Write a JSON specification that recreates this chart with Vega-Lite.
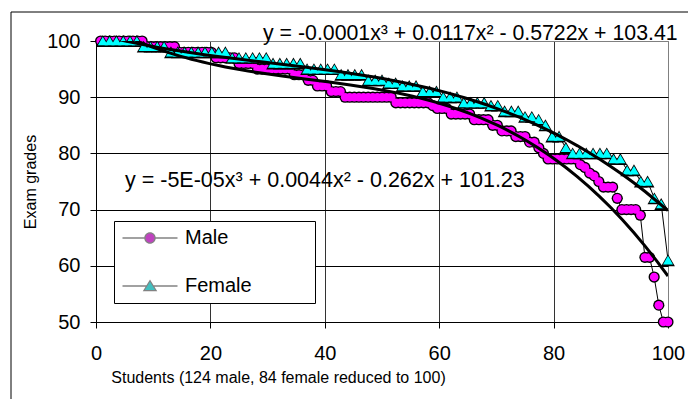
{
  "$schema": "https://vega.github.io/schema/vega-lite/v6.json",
  "width": 572,
  "height": 281,
  "autosize": "none",
  "padding": {"left": 96, "top": 41, "right": 20, "bottom": 77},
  "background": "white",
  "config": {
    "font": "Liberation Sans",
    "view": {"stroke": "#808080", "strokeWidth": 1},
    "axis": {
      "labelFont": "Liberation Sans",
      "titleFont": "Liberation Sans",
      "labelColor": "#000",
      "titleColor": "#000",
      "titleFontWeight": "normal",
      "domainColor": "#000",
      "tickColor": "#000",
      "labelFontSize": 20,
      "titleFontSize": 16,
      "tickSize": 6,
      "labelFlush": false
    }
  },
  "datasets": {
    "grades": [
      {"sex":"Male","student":0.81,"grade":100},{"sex":"Male","student":1.61,"grade":100},{"sex":"Male","student":2.42,"grade":100},{"sex":"Male","student":3.23,"grade":100},{"sex":"Male","student":4.03,"grade":100},{"sex":"Male","student":4.84,"grade":100},{"sex":"Male","student":5.65,"grade":100},{"sex":"Male","student":6.45,"grade":100},{"sex":"Male","student":7.26,"grade":100},{"sex":"Male","student":8.06,"grade":100},
      {"sex":"Male","student":8.87,"grade":99},{"sex":"Male","student":9.68,"grade":99},{"sex":"Male","student":10.48,"grade":99},{"sex":"Male","student":11.29,"grade":99},{"sex":"Male","student":12.1,"grade":99},{"sex":"Male","student":12.9,"grade":99},{"sex":"Male","student":13.71,"grade":99},
      {"sex":"Male","student":14.52,"grade":98},{"sex":"Male","student":15.32,"grade":98},{"sex":"Male","student":16.13,"grade":98},{"sex":"Male","student":16.94,"grade":98},{"sex":"Male","student":17.74,"grade":98},{"sex":"Male","student":18.55,"grade":98},{"sex":"Male","student":19.35,"grade":98},{"sex":"Male","student":20.16,"grade":98},
      {"sex":"Male","student":20.97,"grade":97},{"sex":"Male","student":21.77,"grade":97},{"sex":"Male","student":22.58,"grade":97},{"sex":"Male","student":23.39,"grade":97},{"sex":"Male","student":24.19,"grade":97},
      {"sex":"Male","student":25,"grade":96},{"sex":"Male","student":25.81,"grade":96},{"sex":"Male","student":26.61,"grade":96},{"sex":"Male","student":27.42,"grade":96},
      {"sex":"Male","student":28.23,"grade":95},{"sex":"Male","student":29.03,"grade":95},{"sex":"Male","student":29.84,"grade":95},{"sex":"Male","student":30.65,"grade":95},{"sex":"Male","student":31.45,"grade":95},{"sex":"Male","student":32.26,"grade":95},{"sex":"Male","student":33.06,"grade":95},{"sex":"Male","student":33.87,"grade":95},
      {"sex":"Male","student":34.68,"grade":94},{"sex":"Male","student":35.48,"grade":94},{"sex":"Male","student":36.29,"grade":94},
      {"sex":"Male","student":37.1,"grade":93},{"sex":"Male","student":37.9,"grade":93},
      {"sex":"Male","student":38.71,"grade":92},{"sex":"Male","student":39.52,"grade":92},{"sex":"Male","student":40.32,"grade":92},
      {"sex":"Male","student":41.13,"grade":91},{"sex":"Male","student":41.94,"grade":91},{"sex":"Male","student":42.74,"grade":91},
      {"sex":"Male","student":43.55,"grade":90},{"sex":"Male","student":44.35,"grade":90},{"sex":"Male","student":45.16,"grade":90},{"sex":"Male","student":45.97,"grade":90},{"sex":"Male","student":46.77,"grade":90},{"sex":"Male","student":47.58,"grade":90},{"sex":"Male","student":48.39,"grade":90},{"sex":"Male","student":49.19,"grade":90},{"sex":"Male","student":50,"grade":90},{"sex":"Male","student":50.81,"grade":90},{"sex":"Male","student":51.61,"grade":90},
      {"sex":"Male","student":52.42,"grade":89},{"sex":"Male","student":53.23,"grade":89},{"sex":"Male","student":54.03,"grade":89},{"sex":"Male","student":54.84,"grade":89},{"sex":"Male","student":55.65,"grade":89},{"sex":"Male","student":56.45,"grade":89},{"sex":"Male","student":57.26,"grade":89},{"sex":"Male","student":58.06,"grade":89},
      {"sex":"Male","student":58.87,"grade":88.5},
      {"sex":"Male","student":59.68,"grade":88},{"sex":"Male","student":60.48,"grade":88},{"sex":"Male","student":61.29,"grade":88},
      {"sex":"Male","student":62.1,"grade":87},{"sex":"Male","student":62.9,"grade":87},{"sex":"Male","student":63.71,"grade":87},{"sex":"Male","student":64.52,"grade":87},{"sex":"Male","student":65.32,"grade":87},
      {"sex":"Male","student":66.13,"grade":86},{"sex":"Male","student":66.94,"grade":86},{"sex":"Male","student":67.74,"grade":86},{"sex":"Male","student":68.55,"grade":86},
      {"sex":"Male","student":69.35,"grade":85},{"sex":"Male","student":70.16,"grade":85},
      {"sex":"Male","student":70.97,"grade":84},{"sex":"Male","student":71.77,"grade":84},{"sex":"Male","student":72.58,"grade":84},
      {"sex":"Male","student":73.39,"grade":83},{"sex":"Male","student":74.19,"grade":83},{"sex":"Male","student":75,"grade":83},
      {"sex":"Male","student":75.81,"grade":82},{"sex":"Male","student":76.61,"grade":82},
      {"sex":"Male","student":77.42,"grade":81},
      {"sex":"Male","student":78.23,"grade":80},
      {"sex":"Male","student":79.03,"grade":79},{"sex":"Male","student":79.84,"grade":79},{"sex":"Male","student":80.65,"grade":79},{"sex":"Male","student":81.45,"grade":79},{"sex":"Male","student":82.26,"grade":79},{"sex":"Male","student":83.06,"grade":79},{"sex":"Male","student":83.87,"grade":79},
      {"sex":"Male","student":84.68,"grade":78},
      {"sex":"Male","student":85.48,"grade":77.5},
      {"sex":"Male","student":86.29,"grade":76.5},
      {"sex":"Male","student":87.1,"grade":76},
      {"sex":"Male","student":87.9,"grade":75},
      {"sex":"Male","student":88.71,"grade":74},{"sex":"Male","student":89.52,"grade":74},{"sex":"Male","student":90.32,"grade":74},
      {"sex":"Male","student":91.13,"grade":72},
      {"sex":"Male","student":91.94,"grade":70},{"sex":"Male","student":92.74,"grade":70},{"sex":"Male","student":93.55,"grade":70},{"sex":"Male","student":94.35,"grade":70},
      {"sex":"Male","student":95.16,"grade":69},
      {"sex":"Male","student":95.97,"grade":61.5},{"sex":"Male","student":96.77,"grade":61.5},
      {"sex":"Male","student":97.58,"grade":58},
      {"sex":"Male","student":98.39,"grade":53},
      {"sex":"Male","student":99.19,"grade":50},{"sex":"Male","student":100,"grade":50},

      {"sex":"Female","student":1.19,"grade":100},{"sex":"Female","student":2.38,"grade":100},{"sex":"Female","student":3.57,"grade":100},{"sex":"Female","student":4.76,"grade":100},{"sex":"Female","student":5.95,"grade":100},{"sex":"Female","student":7.14,"grade":100},
      {"sex":"Female","student":8.33,"grade":99},{"sex":"Female","student":9.52,"grade":99},{"sex":"Female","student":10.71,"grade":99},{"sex":"Female","student":11.9,"grade":99},
      {"sex":"Female","student":13.1,"grade":98},{"sex":"Female","student":14.29,"grade":98},{"sex":"Female","student":15.48,"grade":98},{"sex":"Female","student":16.67,"grade":98},{"sex":"Female","student":17.86,"grade":98},{"sex":"Female","student":19.05,"grade":98},{"sex":"Female","student":20.24,"grade":98},{"sex":"Female","student":21.43,"grade":98},{"sex":"Female","student":22.62,"grade":98},
      {"sex":"Female","student":23.81,"grade":97},{"sex":"Female","student":25,"grade":97},{"sex":"Female","student":26.19,"grade":97},{"sex":"Female","student":27.38,"grade":97},{"sex":"Female","student":28.57,"grade":97},{"sex":"Female","student":29.76,"grade":97},
      {"sex":"Female","student":30.95,"grade":96},{"sex":"Female","student":32.14,"grade":96},{"sex":"Female","student":33.33,"grade":96},{"sex":"Female","student":34.52,"grade":96},{"sex":"Female","student":35.71,"grade":96},
      {"sex":"Female","student":36.9,"grade":95},{"sex":"Female","student":38.1,"grade":95},{"sex":"Female","student":39.29,"grade":95},{"sex":"Female","student":40.48,"grade":95},{"sex":"Female","student":41.67,"grade":95},
      {"sex":"Female","student":42.86,"grade":94},{"sex":"Female","student":44.05,"grade":94},{"sex":"Female","student":45.24,"grade":94},{"sex":"Female","student":46.43,"grade":94},
      {"sex":"Female","student":47.62,"grade":93},{"sex":"Female","student":48.81,"grade":93},{"sex":"Female","student":50,"grade":93},
      {"sex":"Female","student":51.19,"grade":92.5},{"sex":"Female","student":52.38,"grade":92.5},
      {"sex":"Female","student":53.57,"grade":92},{"sex":"Female","student":54.76,"grade":92},{"sex":"Female","student":55.95,"grade":92},
      {"sex":"Female","student":57.14,"grade":91},{"sex":"Female","student":58.33,"grade":91},{"sex":"Female","student":59.52,"grade":91},
      {"sex":"Female","student":60.71,"grade":90},{"sex":"Female","student":61.9,"grade":90},{"sex":"Female","student":63.1,"grade":90},
      {"sex":"Female","student":64.29,"grade":89},{"sex":"Female","student":65.48,"grade":89},{"sex":"Female","student":66.67,"grade":89},{"sex":"Female","student":67.86,"grade":89},
      {"sex":"Female","student":69.05,"grade":88.5},{"sex":"Female","student":70.24,"grade":88.5},
      {"sex":"Female","student":71.43,"grade":87.5},{"sex":"Female","student":72.62,"grade":87.5},{"sex":"Female","student":73.81,"grade":87.5},
      {"sex":"Female","student":75,"grade":86.5},{"sex":"Female","student":76.19,"grade":86.5},
      {"sex":"Female","student":77.38,"grade":86},
      {"sex":"Female","student":78.57,"grade":85},
      {"sex":"Female","student":79.76,"grade":83},{"sex":"Female","student":80.95,"grade":83},
      {"sex":"Female","student":82.14,"grade":81},
      {"sex":"Female","student":83.33,"grade":80},{"sex":"Female","student":84.52,"grade":80},{"sex":"Female","student":85.71,"grade":80},{"sex":"Female","student":86.9,"grade":80},{"sex":"Female","student":88.1,"grade":80},{"sex":"Female","student":89.29,"grade":80},
      {"sex":"Female","student":90.48,"grade":79},{"sex":"Female","student":91.67,"grade":79},
      {"sex":"Female","student":92.86,"grade":77},{"sex":"Female","student":94.05,"grade":77},
      {"sex":"Female","student":95.24,"grade":75},{"sex":"Female","student":96.43,"grade":75},
      {"sex":"Female","student":97.62,"grade":72},
      {"sex":"Female","student":98.81,"grade":71},
      {"sex":"Female","student":100,"grade":61}
    ]
  },
  "data": {"name": "grades"},
  "layer": [
    {
      "data": {"values": [{}]},
      "mark": {"type": "rect", "fill": "transparent", "stroke": "#000", "strokeWidth": 1},
      "encoding": {
        "x": {"datum": -14.86, "type": "quantitative", "scale": {"domain": [0, 100], "nice": false, "zero": false}},
        "x2": {"datum": 140},
        "y": {"datum": 105.16, "type": "quantitative", "scale": {"domain": [50, 100], "nice": false, "zero": false}},
        "y2": {"datum": 20}
      }
    },
    {
      "mark": {"type": "line", "color": "#000", "strokeWidth": 1},
      "encoding": {
        "x": {
          "field": "student", "type": "quantitative",
          "scale": {"domain": [0, 100], "nice": false, "zero": false},
          "axis": {
            "values": [0, 20, 40, 60, 80, 100],
            "title": "Students (124 male, 84 female reduced to 100)",
            "grid": true,
            "gridColor": {"condition": {"test": "datum.value === 100", "value": "#808080"}, "value": "#333"},
            "labelPadding": 15,
            "titlePadding": 6,
            "titleX": 182,
            "titleAlign": "center",
            "titleAnchor": "start"
          }
        },
        "y": {
          "field": "grade", "type": "quantitative",
          "scale": {"domain": [50, 100], "nice": false, "zero": false},
          "axis": {
            "values": [50, 60, 70, 80, 90, 100],
            "title": "Exam grades",
            "grid": true,
            "gridColor": {"condition": {"test": "datum.value === 100", "value": "#808080"}, "value": "#000"},
            "labelPadding": 10,
            "titlePadding": 8
          }
        },
        "detail": {"field": "sex"}
      }
    },
    {
      "transform": [{"filter": "datum.sex === 'Male'"}],
      "mark": {"type": "point", "shape": "circle", "filled": true, "color": "#000", "size": 125, "opacity": 1},
      "encoding": {"x": {"field": "student", "type": "quantitative"}, "y": {"field": "grade", "type": "quantitative"}}
    },
    {
      "transform": [{"filter": "datum.sex === 'Male'"}],
      "mark": {"type": "point", "shape": "circle", "filled": true, "color": "#ff00ff", "size": 72, "opacity": 1},
      "encoding": {"x": {"field": "student", "type": "quantitative"}, "y": {"field": "grade", "type": "quantitative"}}
    },
    {
      "transform": [{"filter": "datum.sex === 'Female'"}],
      "mark": {"type": "point", "shape": "triangle-up", "filled": true, "color": "#000", "size": 190, "opacity": 1},
      "encoding": {"x": {"field": "student", "type": "quantitative"}, "y": {"field": "grade", "type": "quantitative"}}
    },
    {
      "transform": [{"filter": "datum.sex === 'Female'"}],
      "mark": {"type": "point", "shape": "triangle-up", "filled": true, "color": "#00ffff", "size": 100, "opacity": 1},
      "encoding": {"x": {"field": "student", "type": "quantitative"}, "y": {"field": "grade", "type": "quantitative"}}
    },
    {
      "transform": [{"regression": "grade", "on": "student", "groupby": ["sex"], "method": "poly", "order": 3}],
      "mark": {"type": "line", "color": "#000", "strokeWidth": 3, "clip": true},
      "encoding": {
        "x": {"field": "student", "type": "quantitative"},
        "y": {"field": "grade", "type": "quantitative"},
        "detail": {"field": "sex"}
      }
    },
    {
      "data": {"values": [{"label": "y = -0.0001x³ + 0.0117x² - 0.5722x + 103.41"}]},
      "mark": {"type": "text", "align": "left", "baseline": "alphabetic", "fontSize": 21.3, "color": "#000"},
      "encoding": {
        "x": {"datum": 29.2, "type": "quantitative"},
        "y": {"datum": 100.18, "type": "quantitative"},
        "text": {"field": "label"}
      }
    },
    {
      "data": {"values": [{"label": "y = -5E-05x³ + 0.0044x² - 0.262x + 101.23"}]},
      "mark": {"type": "text", "align": "left", "baseline": "alphabetic", "fontSize": 21.5, "color": "#000"},
      "encoding": {
        "x": {"datum": 5.07, "type": "quantitative"},
        "y": {"datum": 74.0, "type": "quantitative"},
        "text": {"field": "label"}
      }
    },
    {
      "transform": [{"filter": "false"}],
      "mark": {"type": "point", "filled": true, "size": 100},
      "encoding": {
        "x": {"field": "student", "type": "quantitative"},
        "y": {"field": "grade", "type": "quantitative"},
        "shape": {
          "field": "sex",
          "scale": {"domain": ["Male", "Female"], "range": ["M-5.5,-0.13H5.5V0.13H-5.5ZM-1.15,0A1.15,1.15,0,1,1,1.15,0A1.15,1.15,0,1,1,-1.15,0Z", "M-5.5,-0.13H5.5V0.13H-5.5ZM0,-1.3L1.45,1.05L-1.45,1.05Z"]},
          "legend": {
            "orient": "none", "legendX": 18, "legendY": 180,
            "title": ".", "titleOrient": "right", "titleColor": "transparent", "titleFontSize": 10, "titlePadding": 53,
            "padding": 7, "strokeColor": "#000", "fillColor": "#fff",
            "labelFont": "Liberation Sans", "labelFontSize": 20, "labelColor": "#000", "labelLimit": 400,
            "rowPadding": 28, "symbolOffset": 19, "labelOffset": 25,
            "symbolSize": 100, "symbolStrokeWidth": 0
          }
        },
        "fill": {
          "field": "sex",
          "scale": {"domain": ["Male", "Female"], "range": ["#000000", "#000000"]},
          "legend": {
            "orient": "none", "legendX": 18, "legendY": 180,
            "title": ".", "titleOrient": "right", "titleColor": "transparent", "titleFontSize": 10, "titlePadding": 53,
            "padding": 7, "strokeColor": "#000", "fillColor": "#fff",
            "labelFont": "Liberation Sans", "labelFontSize": 20, "labelColor": "#000", "labelLimit": 400,
            "rowPadding": 28, "symbolOffset": 19, "labelOffset": 25,
            "symbolSize": 100, "symbolStrokeWidth": 0
          }
        }
      }
    },
    {
      "transform": [{"filter": "false"}],
      "mark": {"type": "point", "filled": true, "size": 100},
      "encoding": {
        "x": {"field": "student", "type": "quantitative"},
        "y": {"field": "grade", "type": "quantitative"},
        "shape": {
          "field": "sex",
          "scale": {"domain": ["Male", "Female"], "range": ["M-0.9,0A0.9,0.9,0,1,1,0.9,0A0.9,0.9,0,1,1,-0.9,0Z", "M0,-0.844L1.02,0.81L-1.02,0.81Z"]},
          "legend": {
            "orient": "none", "legendX": 18, "legendY": 180,
            "title": ".", "titleOrient": "right", "titleColor": "transparent", "titleFontSize": 10, "titlePadding": 53,
            "padding": 7, "strokeColor": "transparent", "fillColor": "transparent",
            "labelFont": "Liberation Sans", "labelFontSize": 20, "labelColor": "#000", "labelOpacity": 0, "labelLimit": 400,
            "rowPadding": 28, "symbolOffset": 19, "labelOffset": 25,
            "symbolSize": 100, "symbolStrokeWidth": 0
          }
        },
        "fill": {
          "field": "sex",
          "scale": {"domain": ["Male", "Female"], "range": ["#ff00ff", "#00ffff"]},
          "legend": {
            "orient": "none", "legendX": 18, "legendY": 180,
            "title": ".", "titleOrient": "right", "titleColor": "transparent", "titleFontSize": 10, "titlePadding": 53,
            "padding": 7, "strokeColor": "transparent", "fillColor": "transparent",
            "labelFont": "Liberation Sans", "labelFontSize": 20, "labelColor": "#000", "labelOpacity": 0, "labelLimit": 400,
            "rowPadding": 28, "symbolOffset": 19, "labelOffset": 25,
            "symbolSize": 100, "symbolStrokeWidth": 0
          }
        }
      }
    }
  ],
  "resolve": {"scale": {"shape": "independent", "fill": "independent"}}
}
